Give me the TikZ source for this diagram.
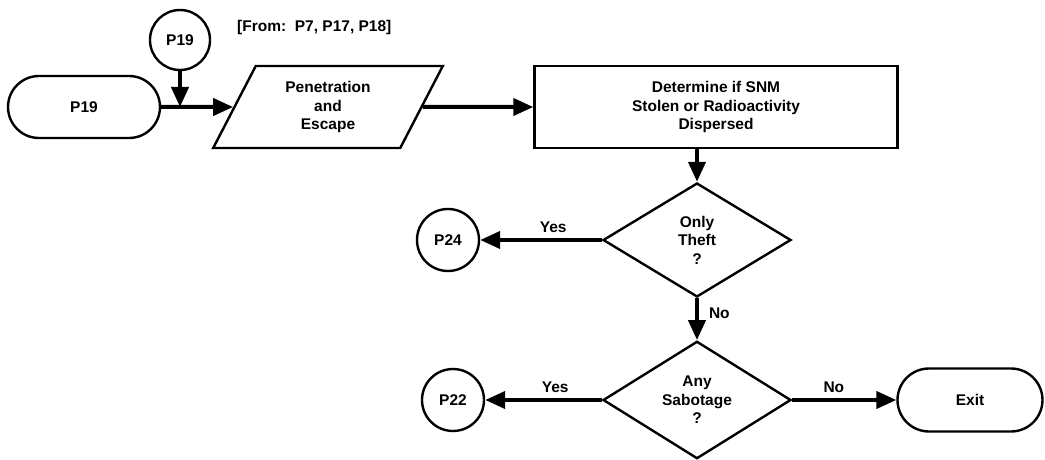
\documentclass[tikz,border=0pt]{standalone}
\usepackage{fontspec}
\setmainfont{Liberation Sans}
\usetikzlibrary{arrows.meta,shapes.geometric,shapes.misc}
\begin{document}
\begin{tikzpicture}[x=1pt,y=-1pt,
  every node/.style={font=\bfseries\fontsize{15.5}{18.5}\selectfont, align=center, inner sep=0pt},
  shp/.style={draw, line width=2.4pt},
  conn/.style={line width=4pt, -{Triangle[length=20pt,width=17pt]}},
  term/.style={shp, rounded rectangle, minimum height=62pt},
  conncirc/.style={shp, circle, minimum size=62pt},
  dec/.style={shp, diamond, minimum width=188pt, minimum height=114pt},
  lbl/.style={font=\bfseries\fontsize{15.5}{18.5}\selectfont}
]
\useasboundingbox (0,0) rectangle (1045,460);

\node[term, minimum width=152pt] (s19) at (84,107) {P19};
\node[conncirc, minimum size=60pt] (c19) at (180,40) {P19};
\node[anchor=west] (from) at (237,27) {[From:~~P7, P17, P18]};
\node[shp, trapezium, trapezium left angle=64, trapezium right angle=116,
      trapezium stretches=true, minimum width=230pt, minimum height=82pt] (pe) at (328,107)
      {Penetration\\and\\Escape};
\node[shp, minimum width=363pt, minimum height=82pt] (box) at (716,107)
      {Determine if SNM\\Stolen or Radioactivity\\Dispersed};
\node[dec] (d1) at (697,240) {Only\\Theft\\?};
\node[dec] (d2) at (697,400) {Any\\Sabotage\\?};
\node[conncirc] (c24) at (448,240) {P24};
\node[conncirc] (c22) at (453,400) {P22};
\node[term, minimum width=145pt, minimum height=63pt] (exit) at (970,400) {Exit};

\coordinate (j) at (c19 |- s19);
\draw[conn] (c19) -- (j);
\draw[conn] (s19) -- (pe);
\draw[conn] (pe) -- (box);
\draw[conn] (d1 |- box.south) -- (d1);
\draw[conn] (d1) -- (c24) node[lbl, pos=0.4, above=5pt] {Yes};
\draw[conn] (d1) -- (d2) node[lbl, pos=0.35, right=10pt] {No};
\draw[conn] (d2) -- (c22) node[lbl, pos=0.4, above=5pt] {Yes};
\draw[conn] (d2) -- (exit) node[lbl, pos=0.4, above=5pt] {No};
\end{tikzpicture}
\end{document}
